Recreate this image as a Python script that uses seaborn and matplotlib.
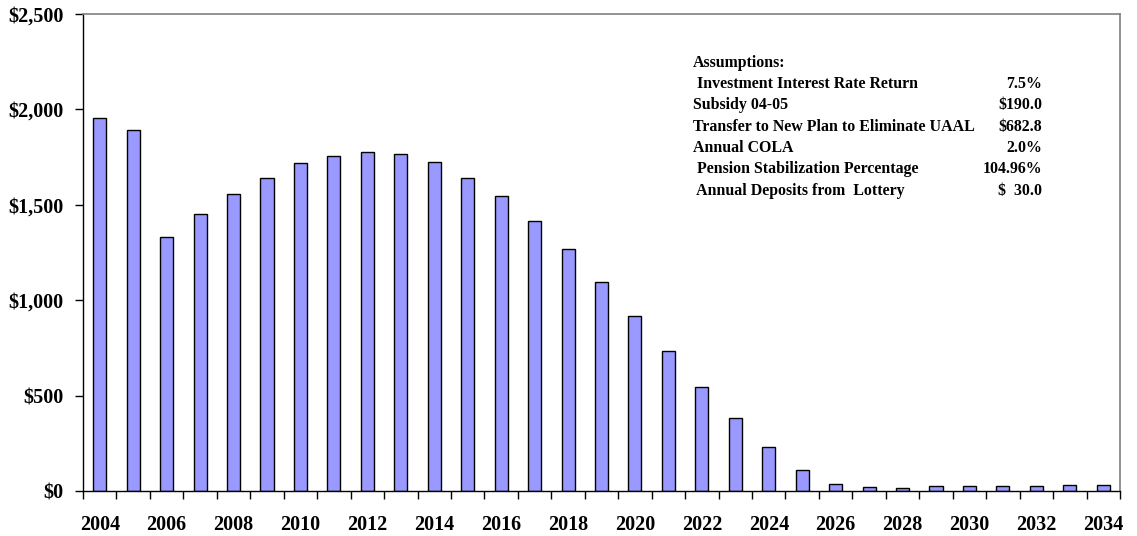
import matplotlib
matplotlib.use("Agg")
import matplotlib.pyplot as plt
import seaborn as sns
import pandas as pd
import numpy as np

years = [str(y) for y in range(2004, 2035)]
balances = [1953, 1893, 1332, 1451, 1556, 1643, 1717, 1755, 1775, 1764,
            1724, 1643, 1544, 1413, 1267, 1096, 916, 733, 546, 381,
            229, 111, 39, 19, 18, 25, 25, 25, 25, 33, 33]
y_ticks = [0, 500, 1000, 1500, 2000, 2500]
y_tick_labels = ["$0", "$500", "$1,000", "$1,500", "$2,000", "$2,500"]
assump_labels = ["Assumptions:",
                 " Investment Interest Rate Return",
                 "Subsidy 04-05",
                 "Transfer to New Plan to Eliminate UAAL",
                 "Annual COLA",
                 " Pension Stabilization Percentage",
                 " Annual Deposits from  Lottery"]
assump_values = ["", "7.5%", "$190.0", "$682.8", "2.0%", "104.96%", "$  30.0"]

sns.set_theme(style="white")
plt.rcParams['font.family'] = ['Liberation Serif', 'DejaVu Serif']
plt.rcParams['font.weight'] = 'bold'
plt.rcParams['text.color'] = 'black'
plt.rcParams['xtick.color'] = 'black'
plt.rcParams['ytick.color'] = 'black'
plt.rcParams['xtick.labelcolor'] = 'black'
plt.rcParams['ytick.labelcolor'] = 'black'

df = pd.DataFrame({"year": years, "balance": balances})

fig = plt.figure(figsize=(11.37, 5.36), dpi=100)
ax = fig.add_axes([83/1137, 45/536, (1120-83)/1137, (491-14)/536])

sns.barplot(data=df, x="year", y="balance", color="#9999FF", width=0.39,
            edgecolor="black", linewidth=1.0, saturation=1, ax=ax)

ax.set_xlim(-0.5, len(years) - 0.5)
ax.set_ylim(0, 2500)
ax.set_xlabel("")
ax.set_ylabel("")

# y axis
ax.set_yticks(y_ticks)
ax.set_yticklabels(y_tick_labels, fontsize=14.5, fontweight='bold', color='black')
ax.tick_params(axis='y', which='major', direction='out', length=6, width=1,
               color='black', pad=8, left=True)

# x axis: labels every other year at bar centers, ticks at category boundaries
idx = np.arange(len(years))
ax.set_xticks(idx[::2])
ax.set_xticklabels([years[i] for i in idx[::2]], fontsize=14.5, fontweight='bold',
                   color='black')
ax.set_xticks(np.arange(len(years) + 1) - 0.5, minor=True)
ax.tick_params(axis='x', which='major', length=0, pad=17)
ax.tick_params(axis='x', which='minor', direction='out', length=6, width=1,
               color='black', bottom=True)

for side in ['left', 'bottom']:
    ax.spines[side].set_color('black')
    ax.spines[side].set_linewidth(1.0)
for side in ['top', 'right']:
    ax.spines[side].set_color('#808080')
    ax.spines[side].set_linewidth(1.2)
ax.grid(False)

# assumptions text block
row_y = [63, 84, 105, 127, 148, 169, 191]
for lab, val, yy in zip(assump_labels, assump_values, row_y):
    fig.text(693/1137, 1 - yy/536, lab, ha='left', va='center',
             fontsize=11.4, fontweight='bold', color='black')
    if val:
        fig.text(1042/1137, 1 - yy/536, val, ha='right', va='center',
                 fontsize=11.4, fontweight='bold', color='black')

fig.savefig("out.png", dpi=100)
